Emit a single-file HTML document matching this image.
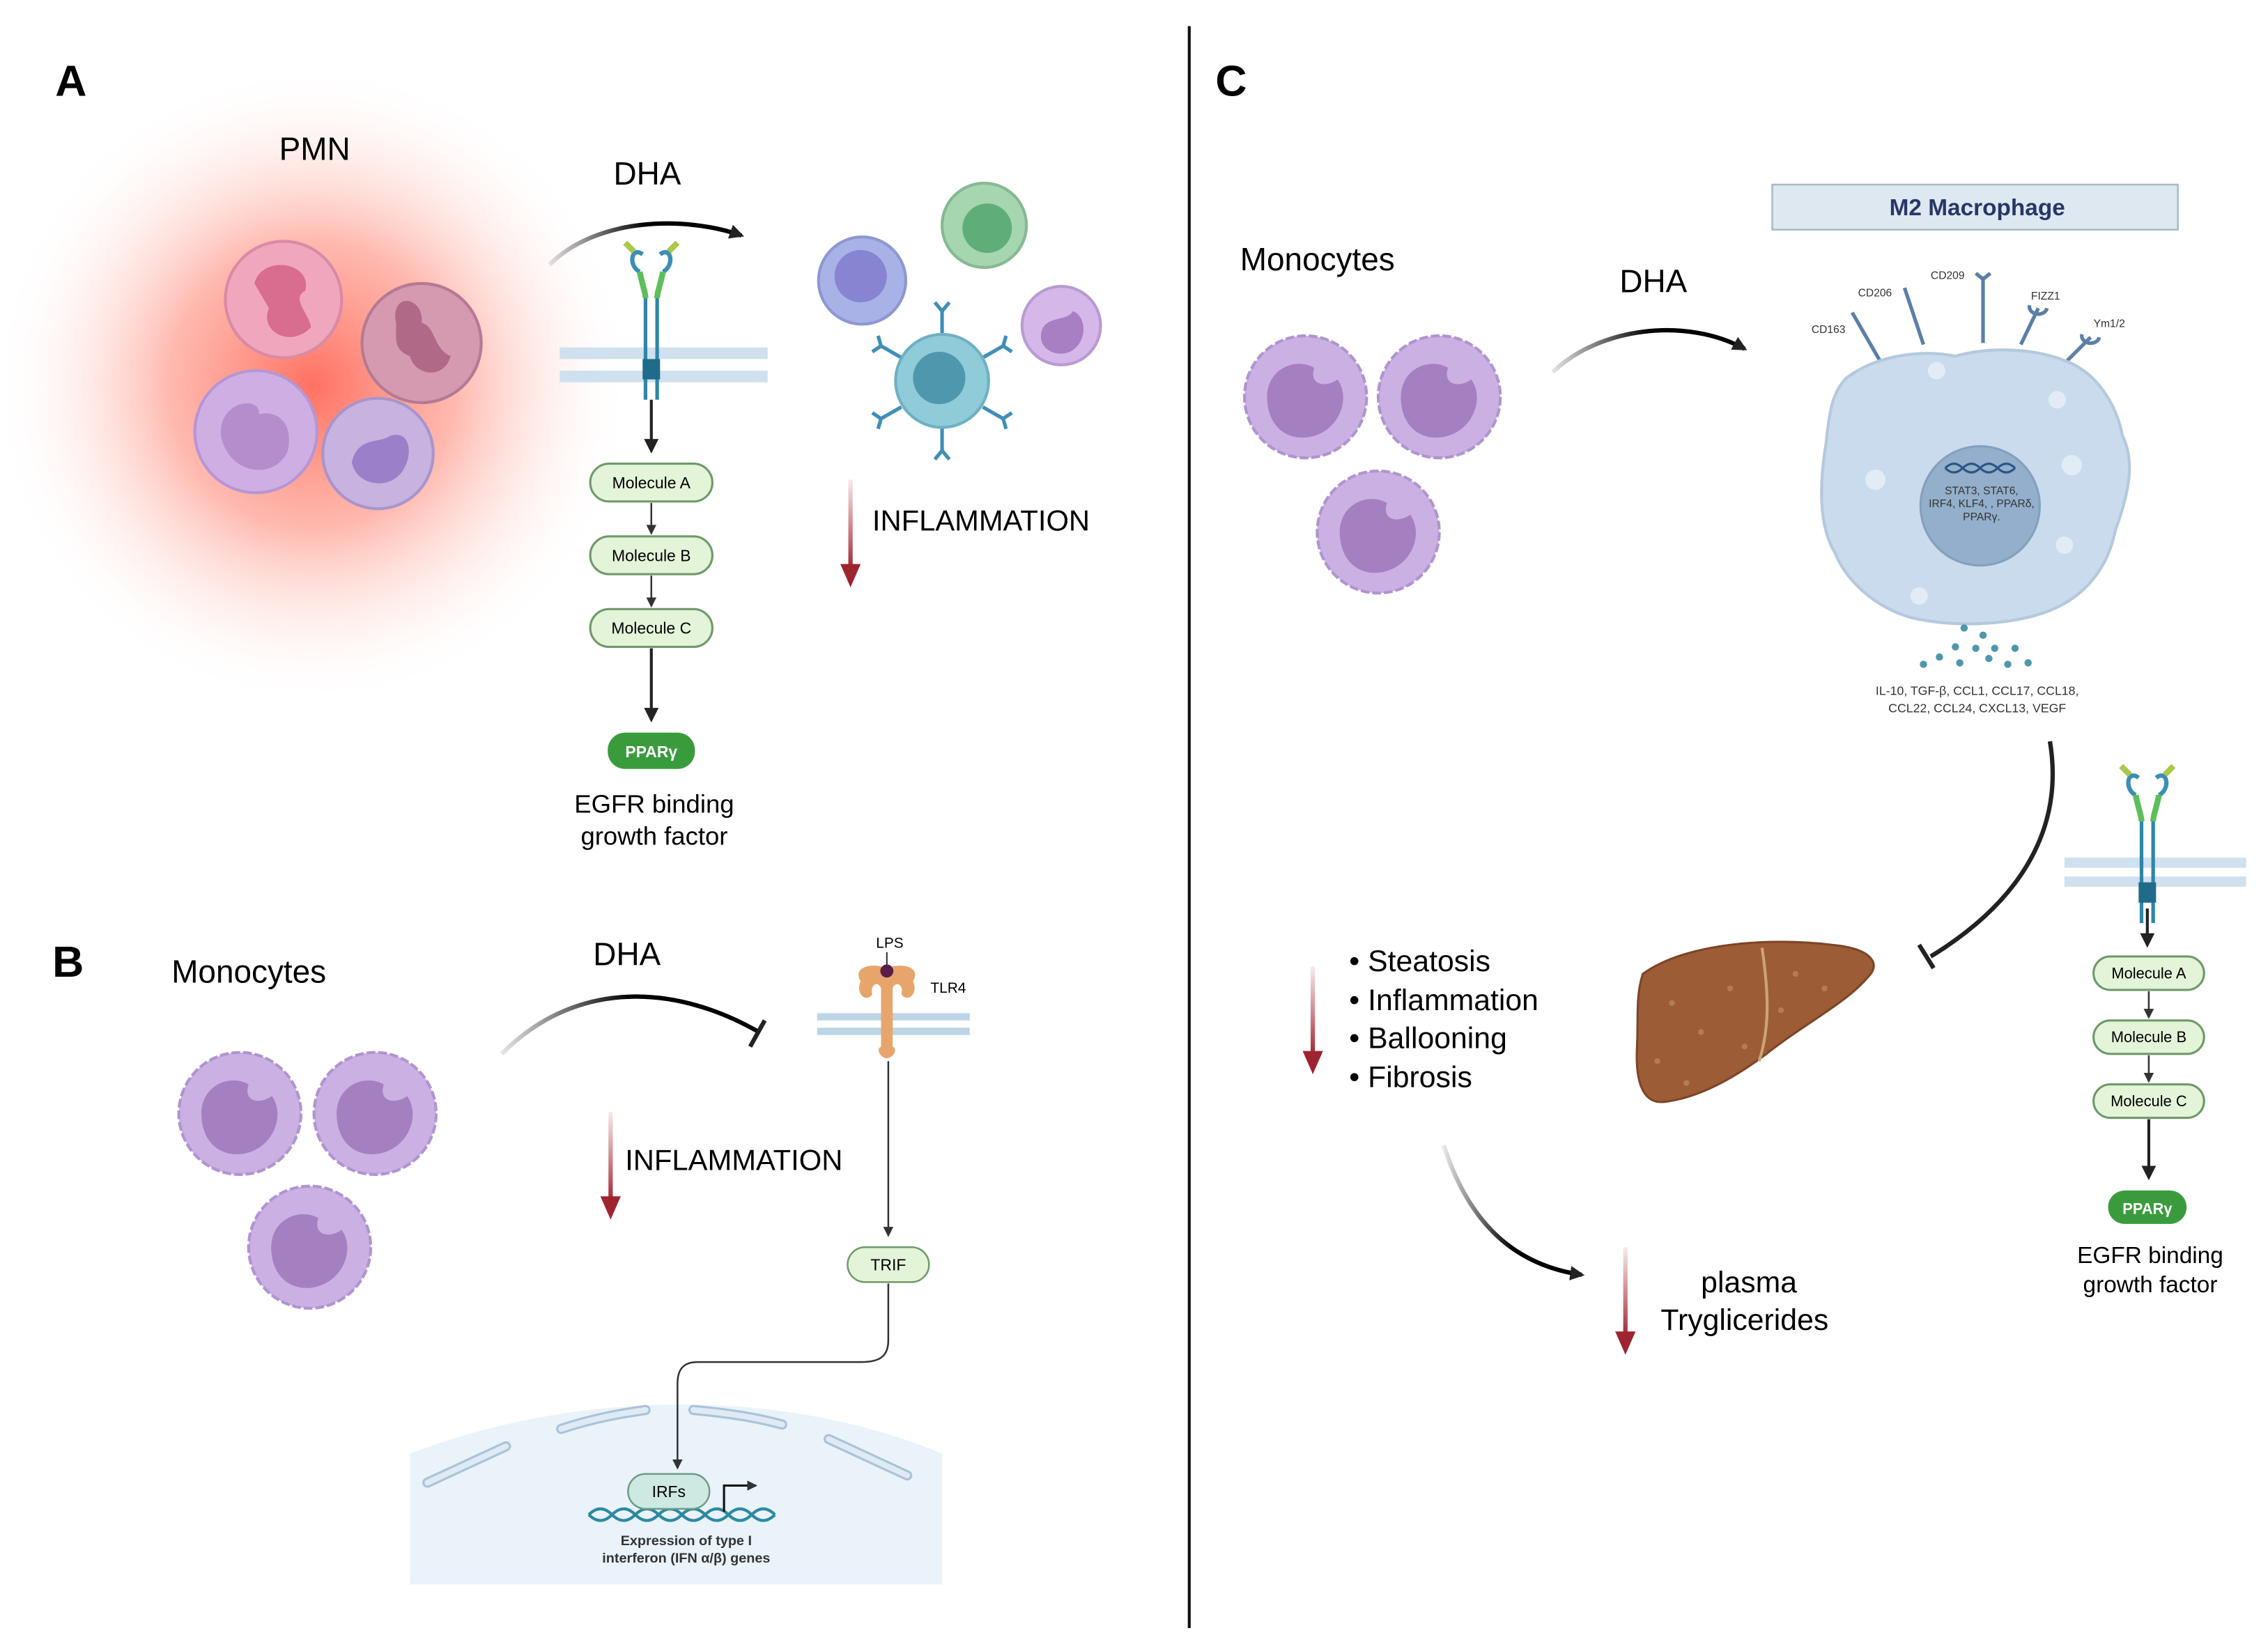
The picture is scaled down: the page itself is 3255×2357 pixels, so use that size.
<!DOCTYPE html>
<html><head><meta charset="utf-8"><style>
html,body{margin:0;padding:0;background:#fff;}
svg{display:block;}
text{font-family:"Liberation Sans",sans-serif;}
</style></head><body>
<svg width="3255" height="2357" viewBox="0 0 1560 1129.6" preserveAspectRatio="none" xmlns="http://www.w3.org/2000/svg">
<defs>
<radialGradient id="glow" cx="0.5" cy="0.5" r="0.5">
<stop offset="0" stop-color="#ff6a5a" stop-opacity="0.95"/>
<stop offset="0.45" stop-color="#ff8a7a" stop-opacity="0.6"/>
<stop offset="1" stop-color="#ffffff" stop-opacity="0"/>
</radialGradient>
<linearGradient id="fadeL" x1="0" x2="1"><stop offset="0" stop-color="#000" stop-opacity="0.1"/><stop offset="0.5" stop-color="#000"/></linearGradient>
<linearGradient id="redG" x1="0" y1="0" x2="0" y2="1"><stop offset="0" stop-color="#b0303a" stop-opacity="0.1"/><stop offset="1" stop-color="#9e2430"/></linearGradient>
<marker id="ah" markerWidth="10" markerHeight="10" refX="8" refY="5" orient="auto" markerUnits="userSpaceOnUse"><path d="M0,0 L10,5 L0,10 Z" fill="#222"/></marker>
<marker id="ahs" markerWidth="7" markerHeight="7" refX="6" refY="3.5" orient="auto" markerUnits="userSpaceOnUse"><path d="M0,0 L7,3.5 L0,7 Z" fill="#333"/></marker>
<g id="redarrow">
<rect x="-1.5" y="0" width="3" height="62" fill="url(#redG)"/>
<polygon points="-7,58 7,58 0,74" fill="#9e2430"/>
</g>
<g id="mono">
<circle r="42" fill="#cbb0e4" stroke="#b094d0" stroke-width="2" stroke-dasharray="6 2"/>
<path d="M-26,6 C-30,-18 -8,-28 6,-20 C2,-8 14,-6 22,-12 C32,2 22,26 0,28 C-14,29 -24,20 -26,6Z" fill="#a580c0"/>
</g>
<g id="recep">
<path d="M-6,0 C-14,-6 -16,8 -8,12 M6,0 C14,-6 16,8 8,12" stroke="#3b8fb5" stroke-width="3" fill="none"/>
<path d="M-12,-2 l-6,-6 M12,-2 l6,-6" stroke="#a9c94a" stroke-width="4"/>
<path d="M-8,12 C-6,22 -4,26 -4,30 M8,12 C6,22 4,26 4,30" stroke="#5cbf5a" stroke-width="4" fill="none"/>
<path d="M-4,30 L-4,100 M4,30 L4,100" stroke="#2f86a6" stroke-width="2.5"/>
<rect x="-6" y="72" width="12" height="14" fill="#1f6b88"/>
</g>
</defs>
<rect width="1560" height="1130" fill="#fff"/>

<!-- Panel A -->
<circle cx="215" cy="265" r="220" fill="url(#glow)"/>
<text x="38" y="66" font-size="30" font-weight="bold">A</text>
<text x="192" y="110" font-size="22">PMN</text>
<circle cx="195" cy="206" r="40" fill="#f0a7bd" stroke="#d98aa5" stroke-width="2"/>
<path d="M175,195 C180,175 215,180 210,200 C200,205 212,215 214,225 C200,240 178,228 185,212 Z" fill="#d86d8f"/>
<circle cx="290" cy="236" r="41" fill="#d59ab0" stroke="#b47a92" stroke-width="2"/>
<path d="M272,220 C270,200 292,205 290,222 C300,225 298,240 310,245 C305,262 285,258 282,245 C268,240 274,228 272,220Z" fill="#b06a87"/>
<circle cx="176" cy="297" r="42" fill="#cfaee4" stroke="#b696d4" stroke-width="2"/>
<path d="M152,300 C150,275 180,272 178,285 C190,282 202,290 198,310 C190,330 158,328 152,300Z" fill="#b58dcc"/>
<circle cx="260" cy="312" r="38" fill="#c7b2e0" stroke="#a994cc" stroke-width="2"/>
<path d="M242,318 C246,300 262,305 268,300 C282,295 284,312 278,322 C270,338 245,335 242,318Z" fill="#9b7fc9"/>

<text x="422" y="127" font-size="22">DHA</text>
<path d="M378,182 C410,150 470,148 510,162" stroke="url(#fadeL)" stroke-width="3" fill="none" marker-end="url(#ah)"/>
<rect x="385" y="239" width="143" height="8" fill="#cfe0ef"/>
<rect x="385" y="255" width="143" height="8" fill="#cfe0ef"/>
<use href="#recep" transform="translate(448,175)"/>
<line x1="448" y1="275" x2="448" y2="310" stroke="#222" stroke-width="2" marker-end="url(#ah)"/>
<g font-size="11" text-anchor="middle">
<rect x="406" y="319" width="84" height="26" rx="13" fill="#e3f4d9" stroke="#6f9a6a" stroke-width="1.5"/><text x="448" y="336">Molecule A</text>
<rect x="406" y="369" width="84" height="26" rx="13" fill="#e3f4d9" stroke="#6f9a6a" stroke-width="1.5"/><text x="448" y="386">Molecule B</text>
<rect x="406" y="419" width="84" height="26" rx="13" fill="#e3f4d9" stroke="#6f9a6a" stroke-width="1.5"/><text x="448" y="436">Molecule C</text>
</g>
<line x1="448" y1="346" x2="448" y2="367" stroke="#333" stroke-width="1.2" marker-end="url(#ahs)"/>
<line x1="448" y1="396" x2="448" y2="417" stroke="#333" stroke-width="1.2" marker-end="url(#ahs)"/>
<line x1="448" y1="446" x2="448" y2="495" stroke="#222" stroke-width="2" marker-end="url(#ah)"/>
<rect x="418" y="504" width="60" height="25" rx="12" fill="#3a9b3c"/>
<text x="448" y="521" font-size="11" font-weight="bold" fill="#fff" text-anchor="middle">PPARγ</text>
<text x="450" y="559" font-size="17.5" text-anchor="middle">EGFR binding</text>
<text x="450" y="581" font-size="17.5" text-anchor="middle">growth factor</text>

<circle cx="593" cy="193" r="30" fill="#a9b2e6" stroke="#8d98d2" stroke-width="2"/><circle cx="592" cy="190" r="18" fill="#8784d2"/>
<circle cx="677" cy="155" r="29" fill="#a5d6b0" stroke="#85b992" stroke-width="2"/><circle cx="679" cy="157" r="17" fill="#5fae78"/>
<circle cx="730" cy="224" r="27" fill="#d6b7ea" stroke="#b99ad3" stroke-width="2"/><path d="M716,232 C716,216 734,222 738,214 C748,218 748,236 736,242 C726,246 716,240 716,232Z" fill="#a97fc3"/>
<g stroke="#3f8fb8" stroke-width="2.5" fill="none">
<line x1="648" y1="230" x2="648" y2="214"/><path d="M643,208 l5,6 l5,-6"/>
<line x1="648" y1="294" x2="648" y2="310"/><path d="M643,316 l5,-6 l5,6"/>
<line x1="620" y1="246" x2="606" y2="238"/><path d="M600,242 l6,-4 l-2,-7"/>
<line x1="676" y1="246" x2="690" y2="238"/><path d="M696,242 l-6,-4 l2,-7"/>
<line x1="620" y1="280" x2="606" y2="288"/><path d="M600,284 l6,4 l-2,7"/>
<line x1="676" y1="280" x2="690" y2="288"/><path d="M696,284 l-6,4 l2,7"/>
</g>
<circle cx="648" cy="262" r="32" fill="#8fcbd8" stroke="#6fb0c2" stroke-width="2"/><circle cx="646" cy="260" r="18" fill="#4f97ac"/>
<use href="#redarrow" transform="translate(585,330)"/>
<text x="600" y="365" font-size="20">INFLAMMATION</text>

<line x1="818" y1="18" x2="818" y2="1120" stroke="#111" stroke-width="2"/>

<!-- Panel B -->
<text x="36" y="672" font-size="30" font-weight="bold">B</text>
<text x="118" y="676" font-size="22">Monocytes</text>
<use href="#mono" transform="translate(165,766)"/>
<use href="#mono" transform="translate(258,766)"/>
<use href="#mono" transform="translate(213,858)"/>
<text x="408" y="664" font-size="22">DHA</text>
<path d="M345,725 C400,670 470,680 522,710" stroke="url(#fadeL)" stroke-width="3" fill="none"/>
<line x1="516" y1="720" x2="526" y2="702" stroke="#222" stroke-width="3"/>
<rect x="562" y="697" width="105" height="5" fill="#bcd5e6"/>
<rect x="562" y="707" width="105" height="5" fill="#bcd5e6"/>
<path d="M592,675 C586,665 600,662 610,666 C620,662 634,665 628,675 C632,684 624,690 620,684 C622,678 616,674 614,680 L614,720 C618,722 614,728 610,728 C606,728 602,722 606,720 L606,680 C604,674 598,678 600,684 C596,690 588,684 592,675Z" fill="#e8a56b"/>
<circle cx="610" cy="668" r="4.5" fill="#5a1e4a"/>
<line x1="610" y1="655" x2="610" y2="664" stroke="#333" stroke-width="1"/>
<text x="612" y="652" font-size="10" text-anchor="middle">LPS</text>
<text x="640" y="683" font-size="10">TLR4</text>
<line x1="611" y1="730" x2="611" y2="850" stroke="#333" stroke-width="1.2" marker-end="url(#ahs)"/>
<rect x="583" y="858" width="56" height="24" rx="12" fill="#e3f4d9" stroke="#6f9a6a" stroke-width="1.2"/>
<text x="611" y="874" font-size="11" text-anchor="middle">TRIF</text>
<path d="M282,1000 C400,955 540,955 648,1000 L648,1090 L282,1090Z" fill="#eaf2fa"/>
<g stroke="#a9c3d8" stroke-width="7" stroke-linecap="round" fill="none">
<path d="M294,1020 L348,995"/><path d="M386,983 C410,975 430,972 444,970"/><path d="M477,970 C500,972 520,975 538,980"/><path d="M570,990 L624,1015"/>
</g>
<g stroke="#dfeaf4" stroke-width="4" stroke-linecap="round" fill="none">
<path d="M294,1020 L348,995"/><path d="M386,983 C410,975 430,972 444,970"/><path d="M477,970 C500,972 520,975 538,980"/><path d="M570,990 L624,1015"/>
</g>
<path d="M611,883 L611,922 C611,934 604,937 592,937 L480,937 C470,937 466,942 466,952 L466,1010" stroke="#333" stroke-width="1.2" fill="none" marker-end="url(#ahs)"/>
<path d="M405,1042 q8,-8 16,0 t16,0 t16,0 t16,0 t16,0 t16,0 t16,0 t16,0" stroke="#2c8aa0" stroke-width="2" fill="none"/>
<path d="M405,1042 q8,8 16,0 t16,0 t16,0 t16,0 t16,0 t16,0 t16,0 t16,0" stroke="#2c8aa0" stroke-width="2" fill="none"/>
<rect x="432" y="1014" width="56" height="24" rx="12" fill="#cde9e2" stroke="#6f9a8a" stroke-width="1.2"/>
<text x="460" y="1030" font-size="11" text-anchor="middle">IRFs</text>
<path d="M498,1040 L498,1022 L520,1022" stroke="#111" stroke-width="1.5" fill="none" marker-end="url(#ahs)"/>
<text x="472" y="1063" font-size="9.5" font-weight="bold" text-anchor="middle" fill="#333">Expression of type I</text>
<text x="472" y="1075" font-size="9.5" font-weight="bold" text-anchor="middle" fill="#333">interferon (IFN α/β) genes</text>
<use href="#redarrow" transform="translate(420,765)"/>
<text x="430" y="805" font-size="20">INFLAMMATION</text>

<!-- Panel C -->
<text x="836" y="66" font-size="30" font-weight="bold">C</text>
<text x="853" y="186" font-size="22">Monocytes</text>
<use href="#mono" transform="translate(898,273)"/>
<use href="#mono" transform="translate(990,273)"/>
<use href="#mono" transform="translate(948,366)"/>
<text x="1114" y="201" font-size="22">DHA</text>
<path d="M1068,256 C1100,225 1160,218 1200,240" stroke="url(#fadeL)" stroke-width="3" fill="none" marker-end="url(#ah)"/>
<rect x="1219" y="127" width="279" height="31" fill="#dde8f1" stroke="#a9b8c8" stroke-width="1.2"/>
<text x="1360" y="148" font-size="16" font-weight="bold" fill="#28366a" text-anchor="middle">M2 Macrophage</text>
<g stroke="#5b7fa8" stroke-width="2.5" fill="none">
<line x1="1297" y1="255" x2="1274" y2="215"/>
<line x1="1323" y1="237" x2="1310" y2="198"/>
<line x1="1364" y1="236" x2="1364" y2="190"/>
<line x1="1390" y1="237" x2="1402" y2="212"/>
<line x1="1422" y1="248" x2="1438" y2="232"/>
<path d="M1359,188 l5,4 l5,-4"/><path d="M1396,210 a6,5 0 0 0 12,2"/><path d="M1432,230 a6,5 0 0 0 12,2"/>
</g>
<path d="M1270,260 C1290,245 1320,240 1345,245 C1370,238 1400,240 1420,248 C1440,255 1455,275 1460,300 C1470,320 1462,345 1455,365 C1450,390 1435,410 1410,420 C1385,430 1345,432 1315,425 C1290,418 1270,400 1262,380 C1250,360 1252,330 1256,305 C1258,285 1260,270 1270,260Z" fill="#c9dbec" stroke="#b4c9dd" stroke-width="2"/>
<circle cx="1362" cy="348" r="41" fill="#93afcb" stroke="#83a0bd" stroke-width="1.5"/>
<g fill="#e1ecf6"><circle cx="1290" cy="330" r="7"/><circle cx="1332" cy="255" r="6"/><circle cx="1425" cy="320" r="7"/><circle cx="1415" cy="275" r="6"/><circle cx="1420" cy="375" r="6"/><circle cx="1320" cy="410" r="6"/></g>
<path d="M1338,322 q6,-6 12,0 t12,0 t12,0 t12,0 M1338,322 q6,6 12,0 t12,0 t12,0 t12,0" stroke="#2a5686" stroke-width="1.5" fill="none"/>
<g font-size="7.5" fill="#333" text-anchor="middle">
<text x="1363" y="340">STAT3, STAT6,</text><text x="1363" y="349">IRF4, KLF4, , PPARδ,</text><text x="1363" y="358">PPARγ.</text>
</g>
<g font-size="7.5" fill="#333">
<text x="1246" y="229">CD163</text><text x="1278" y="204">CD206</text><text x="1328" y="192">CD209</text><text x="1397" y="206">FIZZ1</text><text x="1440" y="225">Ym1/2</text>
</g>
<g fill="#4d98ac"><circle cx="1351" cy="432" r="2.5"/><circle cx="1364" cy="437" r="2.5"/><circle cx="1345" cy="445" r="2.5"/><circle cx="1359" cy="446" r="2.5"/><circle cx="1372" cy="446" r="2.5"/><circle cx="1386" cy="446" r="2.5"/><circle cx="1334" cy="452" r="2.5"/><circle cx="1348" cy="456" r="2.5"/><circle cx="1368" cy="453" r="2.5"/><circle cx="1323" cy="457" r="2.5"/><circle cx="1395" cy="456" r="2.5"/><circle cx="1381" cy="457" r="2.5"/></g>
<text x="1360" y="478" font-size="8.5" fill="#333" text-anchor="middle">IL-10, TGF-β, CCL1, CCL17, CCL18,</text>
<text x="1360" y="490" font-size="8.5" fill="#333" text-anchor="middle">CCL22, CCL24, CXCL13, VEGF</text>
<path d="M1410,510 C1420,570 1390,620 1328,658" stroke="#222" stroke-width="3" fill="none"/>
<line x1="1320" y1="650" x2="1330" y2="666" stroke="#222" stroke-width="3"/>
<rect x="1420" y="590" width="125" height="7" fill="#cfe0ef"/>
<rect x="1420" y="603" width="125" height="7" fill="#cfe0ef"/>
<use href="#recep" transform="translate(1477,535)"/>
<line x1="1477" y1="625" x2="1477" y2="650" stroke="#222" stroke-width="2" marker-end="url(#ah)"/>
<g font-size="10.5" text-anchor="middle">
<rect x="1440" y="658" width="76" height="23" rx="11.5" fill="#e3f4d9" stroke="#6f9a6a" stroke-width="1.5"/><text x="1478" y="673">Molecule A</text>
<rect x="1440" y="702" width="76" height="23" rx="11.5" fill="#e3f4d9" stroke="#6f9a6a" stroke-width="1.5"/><text x="1478" y="717">Molecule B</text>
<rect x="1440" y="746" width="76" height="23" rx="11.5" fill="#e3f4d9" stroke="#6f9a6a" stroke-width="1.5"/><text x="1478" y="761">Molecule C</text>
</g>
<line x1="1478" y1="682" x2="1478" y2="700" stroke="#333" stroke-width="1.2" marker-end="url(#ahs)"/>
<line x1="1478" y1="726" x2="1478" y2="744" stroke="#333" stroke-width="1.2" marker-end="url(#ahs)"/>
<line x1="1478" y1="770" x2="1478" y2="810" stroke="#222" stroke-width="2" marker-end="url(#ah)"/>
<rect x="1450" y="819" width="54" height="23" rx="11.5" fill="#3a9b3c"/>
<text x="1477" y="835" font-size="10.5" font-weight="bold" fill="#fff" text-anchor="middle">PPARγ</text>
<text x="1479" y="869" font-size="16" text-anchor="middle">EGFR binding</text>
<text x="1479" y="889" font-size="16" text-anchor="middle">growth factor</text>

<path d="M1130,670 C1160,648 1220,645 1260,650 C1285,652 1295,662 1285,672 C1270,690 1240,705 1215,725 C1195,740 1170,755 1145,758 C1128,760 1125,740 1126,720 C1127,700 1125,685 1130,670Z" fill="#9c5d36" stroke="#7e4526" stroke-width="1.5"/>
<path d="M1212,652 C1216,680 1218,705 1210,730" stroke="#c9a574" stroke-width="2" fill="none"/>
<g fill="#c08a5e" opacity="0.7"><circle cx="1150" cy="690" r="2"/><circle cx="1170" cy="710" r="2"/><circle cx="1190" cy="680" r="2"/><circle cx="1140" cy="730" r="2"/><circle cx="1235" cy="670" r="2"/><circle cx="1255" cy="680" r="2"/><circle cx="1200" cy="720" r="2"/><circle cx="1160" cy="745" r="2"/><circle cx="1225" cy="695" r="2"/></g>

<use href="#redarrow" transform="translate(903,665)"/>
<g font-size="20.5">
<text x="928" y="668">• Steatosis</text><text x="928" y="695">• Inflammation</text><text x="928" y="721">• Ballooning</text><text x="928" y="748">• Fibrosis</text>
</g>
<path d="M993,788 C1010,840 1040,870 1088,877" stroke="url(#fadeL)" stroke-width="3" fill="none" marker-end="url(#ah)"/>
<use href="#redarrow" transform="translate(1118,858)"/>
<text x="1203" y="889" font-size="20.5" text-anchor="middle">plasma</text>
<text x="1200" y="915" font-size="20.5" text-anchor="middle">Tryglicerides</text>
</svg>
</body></html>
